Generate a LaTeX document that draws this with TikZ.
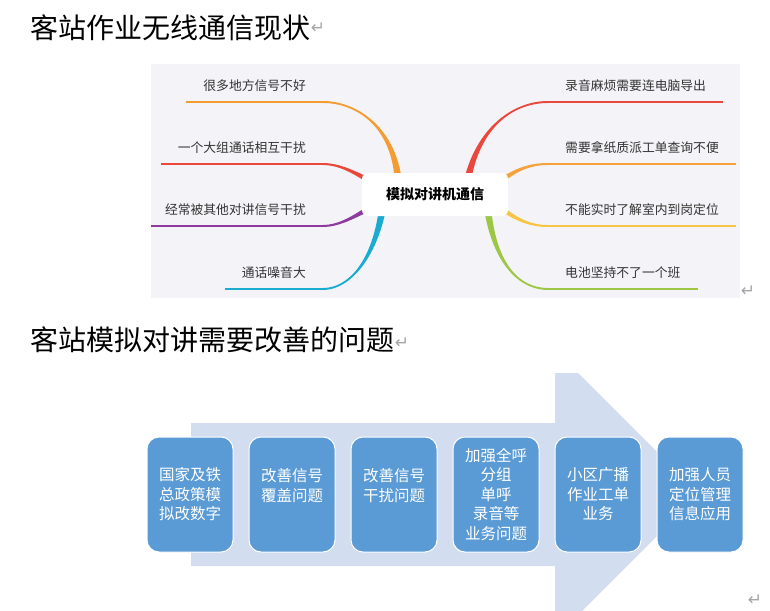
\documentclass[tikz,border=0pt]{standalone}
\usepackage{fontspec}
\usetikzlibrary{calc}
\newfontfamily\cjk{Noto Sans CJK SC}
\newfontfamily\retfont{DejaVu Sans}
\definecolor{mapbg}{HTML}{F4F4F8}
\definecolor{txtgray}{HTML}{333333}
\definecolor{orangeL}{HTML}{F39C32}
\definecolor{redL}{HTML}{E9483D}
\definecolor{purpleL}{HTML}{8E3A9E}
\definecolor{cyanL}{HTML}{1AACD0}
\definecolor{orangeR}{HTML}{F6A23C}
\definecolor{yellowR}{HTML}{F8C447}
\definecolor{greenR}{HTML}{9DC645}
\definecolor{boxblue}{HTML}{5B9BD5}
\definecolor{arrowbg}{HTML}{D2DEEF}
\definecolor{retgray}{HTML}{A6A6A6}
\pgfdeclarelayer{back}
\pgfdeclarelayer{mid}
\pgfsetlayers{back,mid,main}
\tikzset{
	title/.style={font=\cjk\fontsize{28}{32}\selectfont, anchor=base west, inner sep=0pt},
	lbl/.style={font=\cjk\fontsize{12.8}{15}\selectfont, text=txtgray, inner xsep=17pt, inner ysep=0pt, text height=11pt, text depth=11.5pt},
	hub/.style={fill=white, rounded corners=6pt, minimum width=146pt, minimum height=43pt, font=\cjk\bfseries\fontsize{14}{16}\selectfont},
	stepbox/.style={fill=boxblue, draw=white, line width=1pt, rounded corners=12pt, minimum width=86pt, minimum height=115pt, inner sep=0pt, text=white, align=center, font=\cjk\fontsize{15.5}{19.5}\selectfont},
	ret/.style={font=\retfont\fontsize{17}{17}\selectfont, text=retgray, inner sep=0pt},
}
\newcommand{\twig}[7]{%
	\coordinate (tw) at (#2);
	\fill[#1] ($(tw)+(#6)$) .. controls ($(#3)+0.5*(#6)$) and ($(#4)+(#7)$) .. ($(#5)+(#7)$)
		-- ($(#5)-(#7)$) .. controls ($(#4)-(#7)$) and ($(#3)-0.5*(#6)$) .. ($(tw)-(#6)$) -- cycle;
}
\begin{document}
\begin{tikzpicture}[x=1pt,y=-1pt]
	\useasboundingbox (0,0) rectangle (770,610);
	\begin{pgfonlayer}{back}
		\fill[white] (0,0) rectangle (770,610);
		\fill[mapbg] (151,64) rectangle (740,298);
	\end{pgfonlayer}
	\node[title] (t1) at (30,38) {客站作业无线通信现状};
	\node[ret] (p1) at (318,28) {↵};
	% mind map
	\node[hub] (hub) at (435,194.5) {模拟对讲机通信};
	\node[lbl, anchor=south east] (l1) at (323,102) {很多地方信号不好};
	\node[lbl, anchor=south east] (l2) at (323,164) {一个大组通话相互干扰};
	\node[lbl, anchor=south east] (l3) at (323,226) {经常被其他对讲信号干扰};
	\node[lbl, anchor=south east] (l4) at (323,289) {通话噪音大};
	\node[lbl, anchor=south west] (r1) at (548,102) {录音麻烦需要连电脑导出};
	\node[lbl, anchor=south west] (r2) at (548,164) {需要拿纸质派工单查询不便};
	\node[lbl, anchor=south west] (r3) at (548,226) {不能实时了解室内到岗定位};
	\node[lbl, anchor=south west] (r4) at (548,289) {电池坚持不了一个班};
	\begin{pgfonlayer}{mid}
		\clip (151,64) rectangle (740,298);
		\twig{orangeL}{$(hub.north)+(-37,5)$}{392,125}{355,102}{l1.south east}{3.5,0}{0,-1}
		\twig{redL}{$(hub.west)+(6,-14.5)$}{352,171}{338,164}{l2.south east}{0,-3}{0,-1}
		\twig{purpleL}{$(hub.west)+(6,14.5)$}{352,218}{338,226}{l3.south east}{0,-3}{0,-1}
		\twig{cyanL}{$(hub.south)+(-53,-4.5)$}{373,262}{348,289}{l4.south east}{-3.5,0}{0,-1}
		\twig{redL}{$(hub.north)+(33,5)$}{480,125}{515,102}{r1.south west}{3.5,0}{0,1}
		\twig{orangeR}{$(hub.east)+(-6,-14.5)$}{519,168}{532,164}{r2.south west}{0,3}{0,1}
		\twig{yellowR}{$(hub.east)+(-6,14.5)$}{519,221}{532,226}{r3.south west}{0,3}{0,1}
		\twig{greenR}{$(hub.south)+(53,-4.5)$}{495,262}{518,289}{r4.south west}{-3.5,0}{0,1}
		\draw[orangeL, line width=2] (l1.south west) -- (l1.south east);
		\draw[redL, line width=2] (l2.south west) -- (l2.south east);
		\draw[purpleL, line width=2] (l3.south west) -- (l3.south east);
		\draw[cyanL, line width=2] (l4.south west) -- (l4.south east);
		\draw[redL, line width=2] (r1.south west) -- (r1.south east);
		\draw[orangeR, line width=2] (r2.south west) -- (r2.south east);
		\draw[yellowR, line width=2] (r3.south west) -- (r3.south east);
		\draw[greenR, line width=2] (r4.south west) -- (r4.south east);
	\end{pgfonlayer}
	\node[ret] (p2) at (748,291) {↵};
	% process arrow
	\node[title] (t2) at (30,350) {客站模拟对讲需要改善的问题};
	\node[ret] (p3) at (402,343) {↵};
	\clip (0,0) rectangle (770,610);
	\fill[arrowbg] (191,423) -- (555,423) -- (555,373) -- (578,373) -- (699,494) -- (578,615) -- (555,615) -- (555,566) -- (191,566) -- cycle;
	\foreach \i/\txt in {1/{国家及铁\\总政策模\\拟改数字}, 2/{改善信号\\覆盖问题\\~}, 3/{改善信号\\干扰问题\\~},
		4/{加强全呼\\分组\\单呼\\录音等\\业务问题}, 5/{小区广播\\作业工单\\业务}, 6/{加强人员\\定位管理\\信息应用}}
	{
		\node[stepbox] (b\i) at (88+102*\i,494.5) {\txt};
	}
	\node[ret] (p4) at (755,600) {↵};
\end{tikzpicture}
\end{document}
